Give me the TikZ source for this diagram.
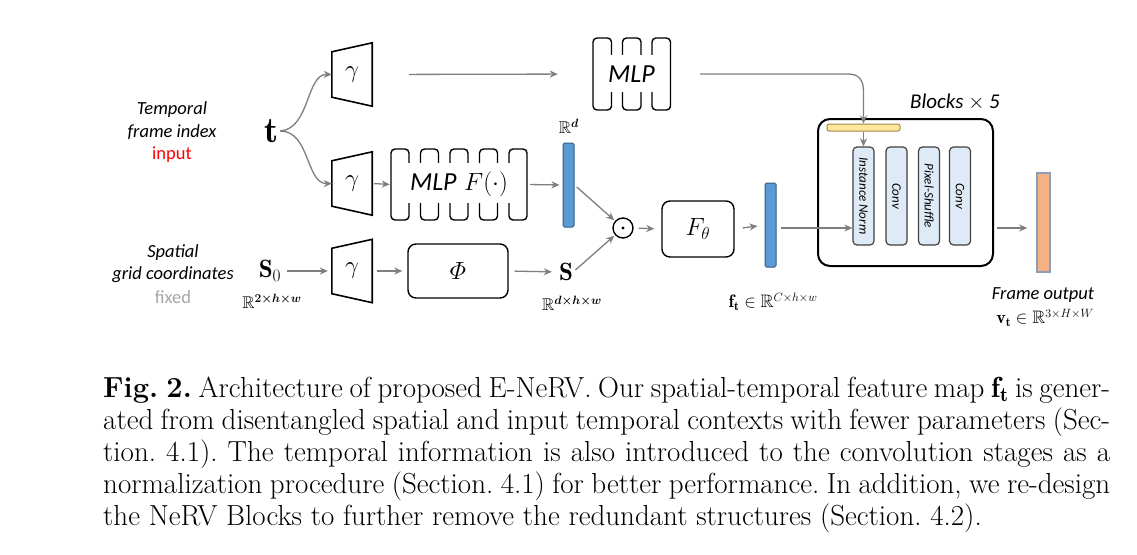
\documentclass[tikz,border=0pt]{standalone}
\usepackage{fontspec}
\usepackage{amsmath,amssymb}
\newfontfamily\carl{Carlito}
\usetikzlibrary{arrows.meta,calc}
\definecolor{arrgray}{HTML}{7F7F7F}
\definecolor{barblue}{HTML}{5B9BD5}
\definecolor{barbluedark}{HTML}{2F5D8A}
\definecolor{innerblue}{HTML}{DEEBF7}
\definecolor{innerdraw}{HTML}{404040}
\definecolor{yel}{HTML}{FFE699}
\definecolor{yeldraw}{HTML}{A08850}
\definecolor{outorange}{HTML}{F4B183}
\definecolor{outdraw}{HTML}{8C9DB5}
\definecolor{fixgray}{HTML}{A6A6A6}
\tikzset{
 arr/.style={draw=arrgray, line width=1.3pt, -{Stealth[length=8pt,width=7pt,inset=2.5pt]}},
 gam/.style={minimum width=40pt, minimum height=63pt, inner sep=0pt, font=\fontsize{28}{28}\selectfont},
 trapline/.style={line width=1.6pt, line join=miter},
 lbl/.style={font=\carl\itshape\fontsize{18.5}{18.5}\selectfont, inner sep=0pt},
 rbox/.style={draw, line width=1.4pt, rounded corners=8pt, inner sep=0pt, font=\fontsize{25}{25}\selectfont},
 bluebar/.style={draw=barbluedark, fill=barblue, line width=1pt, rounded corners=1.5pt, minimum width=11pt, inner sep=0pt},
 innerbox/.style={draw=innerdraw, fill=innerblue, line width=1.2pt, rounded corners=4pt, rotate=-90, minimum width=98pt, minimum height=21pt, inner sep=0pt, font=\carl\itshape\fontsize{13}{13}\selectfont},
 mathlbl/.style={inner sep=0pt, font=\fontsize{17}{17}\selectfont},
 bigmath/.style={inner sep=0pt, font=\fontsize{25}{25}\selectfont},
 mlpbar/.style={line width=1.4pt, rounded corners=4pt},
 captxt/.style={inner sep=0pt, anchor=base west, font=\fontsize{29}{32}\selectfont\frenchspacing},
}
\newcommand\trapez[1]{\draw[trapline] ($(#1.north west)+(0,9)$) -- (#1.north east) -- (#1.south east) -- ($(#1.south west)+(0,-9)$) -- cycle;}
\begin{document}
\begin{tikzpicture}[x=1pt,y=-1pt]
\useasboundingbox (0,0) rectangle (1137,554);
\fill[white] (0,0) rectangle (1137,554);

% left labels
\node[lbl] (tl1) at (172,110) {Temporal};
\node[lbl] (tl2) at (172,132) {frame index};
\node[lbl, font=\carl\fontsize{18.5}{18.5}\selectfont, text=red] (tl3) at (172,155) {input};
\node[lbl] (sl1) at (173,253) {Spatial};
\node[lbl] (sl2) at (173,275) {grid coordinates};
\node[lbl, font=\carl\fontsize{18.5}{18.5}\selectfont, text=fixgray] (sl3) at (173,297) {fixed};

% t and S0
\node[inner sep=0pt, font=\fontsize{36}{36}\selectfont] (t) at (272,131) {$\mathbf{t}$};
\node[bigmath] (S0) at (270,271) {$\mathbf{S}_0$};
\node[mathlbl] (r2) at (272,301) {$\mathbb{R}^{\boldsymbol{2\times h\times w}}$};

% gamma encoders
\node[gam] (g1) at (352,74.5) {$\gamma$};
\node[gam] (g2) at (352,183.5) {$\gamma$};
\node[gam] (g3) at (352,271) {$\gamma$};
\trapez{g1}
\trapez{g2}
\trapez{g3}

% top MLP
\foreach \i in {0,1,2} \draw[mlpbar] ({593+\i*29.5},38) rectangle ++(18.5,72);
\fill[white] (594,55) rectangle (669,92);
\node[inner sep=0pt, minimum width=77pt, minimum height=72pt, font=\carl\itshape\fontsize{26}{26}\selectfont] (mlp) at (631.5,74) {MLP};

% MLP F
\foreach \i in {0,1,2,3,4} \draw[mlpbar] ({391+\i*29.5},149) rectangle ++(18,71);
\fill[white] (392.2,163) rectangle (525.8,203);
\node[inner sep=0pt, minimum width=136pt, minimum height=71pt, font=\fontsize{25}{25}\selectfont] (mlpf) at (459,184.5) {{\carl\itshape\fontsize{26}{26}\selectfont MLP} $F(\cdot)$};

% Phi box
\node[rbox, minimum width=100pt, minimum height=54pt] (phi) at (458,271) {$\varPhi$};
\node[bigmath] (S) at (566,272) {$\mathbf{S}$};
\node[mathlbl] (rdhw) at (572,303) {$\mathbb{R}^{\boldsymbol{d\times h\times w}}$};

% R^d bar
\node[bluebar, minimum height=84pt] (rd) at (568.5,185) {};
\node[mathlbl] (rdl) at (569,126) {$\mathbb{R}^{\boldsymbol{d}}$};

% odot
\node[circle, draw, line width=1.4pt, minimum size=20pt, inner sep=0pt] (od) at (623,228) {};
\fill (od.center) circle (1.7pt);

% F theta
\node[rbox, minimum width=72pt, minimum height=56pt] (fth) at (698,229) {$F_\theta$};

% f_t bar
\node[bluebar, minimum height=84pt] (ft) at (770.5,225) {};
\node[mathlbl, font=\fontsize{18}{18}\selectfont] (ftl) at (773,302) {$\mathbf{f_t}\in\mathbb{R}^{C\times h\times w}$};

% Blocks
\node[draw, line width=2pt, rounded corners=12pt, minimum width=175pt, minimum height=147pt, inner sep=0pt] (blk) at (905.5,192.5) {};
\node[lbl, font=\carl\itshape\fontsize{21}{21}\selectfont] (blkl) at (955,102) {Blocks $\times$ 5};
\node[draw=yeldraw, fill=yel, line width=1pt, rounded corners=2pt, minimum width=73pt, minimum height=7pt, inner sep=0pt] (yb) at (863.5,127.5) {};
\node[innerbox] (in1) at (863.5,196) {Instance Norm};
\node[innerbox] (in2) at (896.5,196) {Conv};
\node[innerbox] (in3) at (929,196) {Pixel-Shuffle};
\node[innerbox] (in4) at (960,196) {Conv};

% output
\node[draw=outdraw, fill=outorange, line width=1.5pt, minimum width=13pt, minimum height=99pt, inner sep=0pt] (out) at (1043.5,222.5) {};
\node[lbl] (outl) at (1043,295) {Frame output};
\node[mathlbl, font=\fontsize{18}{18}\selectfont] (vt) at (1045,318) {$\mathbf{v_t}\in\mathbb{R}^{3\times H\times W}$};

% connectors
\coordinate (mainy) at (0,228);
\draw[arr, shorten <=1pt] (t.east) .. controls (310,129) and (306,74) .. (g1.west);
\draw[arr, shorten <=1pt] (t.east) .. controls (310,131) and (306,184) .. (g2.west);
\draw[arr, shorten <=37pt, shorten >=35pt] (g1.east) -- (mlp.west);
\draw[arr, shorten <=2pt, shorten >=1pt] (g2.east) -- (mlpf.west);
\draw[arr, shorten <=3pt, shorten >=3pt] (mlpf.east) -- (rd.west);
\draw[arr, shorten <=6pt, shorten >=4pt] (S0.east) -- (g3.west);
\draw[arr, shorten <=5pt, shorten >=5pt] (g3.east) -- (phi.west);
\draw[arr, shorten <=6pt, shorten >=7pt] (phi.east) -- (S.west);
\draw[arr, shorten <=3pt, shorten >=1pt] (rd.east) -- (od);
\draw[arr, shorten <=3pt, shorten >=1pt] (S.east) -- (od);
\draw[arr, shorten <=5pt, shorten >=7pt] (od.east) -- (fth.west);
\draw[arr, shorten <=8pt, shorten >=7pt] (fth.east) -- (ft.west);
\draw[arr, shorten <=4pt] (ft.east |- mainy) -- (in1.south |- mainy);
\draw[arr] ($(mlp.east)+(30,0)$) -- (848,74) .. controls (859,74) and (863.5,80) .. (863.5,92) -- (yb.north);
\draw[arr] (yb.south) -- (in1.west);
\draw[arr, shorten <=3pt, shorten >=9pt] (blk.east |- mainy) -- (out.west |- mainy);

% caption
\node[captxt] (c1) at (103,397) {\makebox[1007pt][s]{\textbf{Fig. 2.} Architecture of proposed E-NeRV. Our spatial-temporal feature map $\mathbf{f_t}$ is gener-}};
\node[captxt] (c2) at (103,429) {\makebox[1007pt][s]{ated from disentangled spatial and input temporal contexts with fewer parameters (Sec-}};
\node[captxt] (c3) at (103,461) {\makebox[1007pt][s]{tion. 4.1). The temporal information is also introduced to the convolution stages as a}};
\node[captxt] (c4) at (103,493) {\makebox[1007pt][s]{normalization procedure (Section. 4.1) for better performance. In addition, we re-design}};
\node[captxt] (c5) at (103,525) {the NeRV Blocks to further remove the redundant structures (Section. 4.2).};
\end{tikzpicture}
\end{document}
